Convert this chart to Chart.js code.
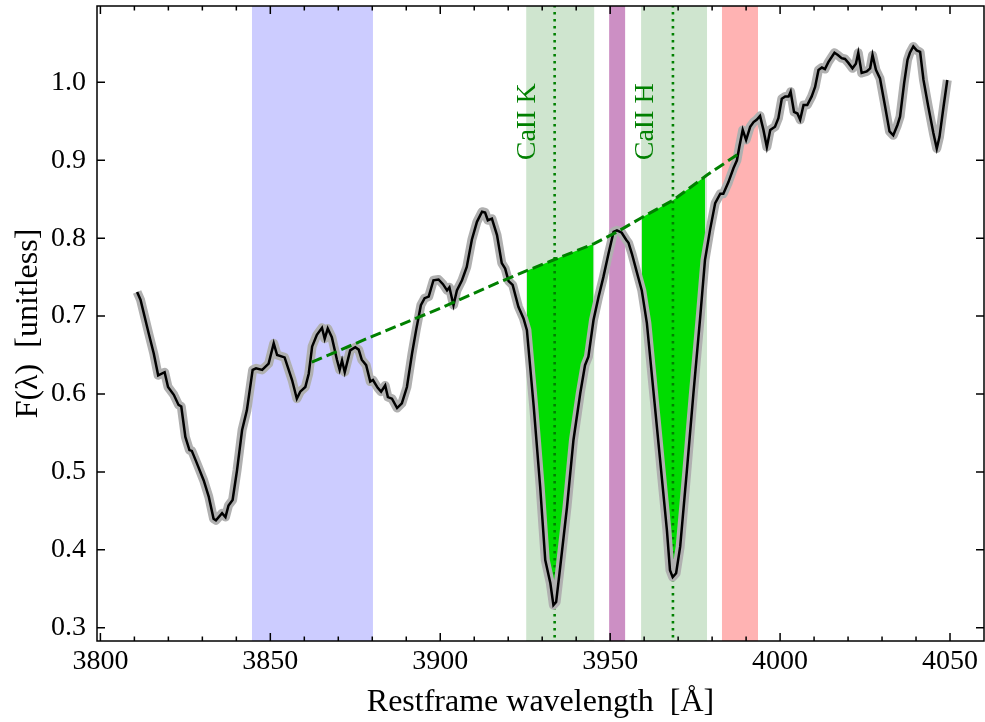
<!DOCTYPE html>
<html>
<head>
<meta charset="utf-8">
<script src="https://cdn.jsdelivr.net/npm/chart.js@4.4.0/dist/chart.umd.min.js"></script>
<style>
  html, body { margin: 0; padding: 0; background: #fff; }
</style>
</head>
<body>
<canvas id="spec" width="985" height="722"></canvas>
<script>
// restframe wavelength (Å) and normalised flux
const wave = [3810.8, 3811.8, 3814.2, 3815.7, 3817.0, 3818.9, 3819.9, 3821.6, 3823.0, 3823.8,
  3825.0, 3826.2, 3826.9, 3828.4, 3830.4, 3831.9, 3833.3, 3834.0, 3835.8, 3836.8,
  3837.7, 3838.9, 3840.2, 3841.7, 3843.1, 3844.8, 3845.8, 3847.6, 3849.5, 3851.0,
  3852.0, 3854.2, 3856.4, 3857.8, 3858.8, 3860.3, 3861.3, 3862.3, 3863.7, 3865.2,
  3866.0, 3866.9, 3868.1, 3869.6, 3870.4, 3871.1, 3871.9, 3873.5, 3875.0, 3876.0,
  3876.9, 3878.2, 3879.4, 3880.2, 3881.6, 3882.6, 3883.8, 3884.6, 3885.8, 3887.3,
  3888.7, 3890.2, 3891.7, 3892.9, 3894.3, 3895.4, 3896.6, 3898.0, 3899.5, 3900.8,
  3902.0, 3902.7, 3903.9, 3904.9, 3906.4, 3907.8, 3909.3, 3910.8, 3912.3, 3913.2,
  3914.0, 3915.2, 3916.7, 3918.1, 3919.1, 3920.1, 3921.3, 3923.0, 3924.5, 3925.5,
  3927.5, 3929.4, 3930.9, 3932.4, 3933.3, 3934.1, 3935.3, 3937.3, 3939.2, 3941.2,
  3942.6, 3943.6, 3945.1, 3946.6, 3948.0, 3949.5, 3951.0, 3952.0, 3953.4, 3954.7,
  3955.4, 3956.4, 3957.8, 3959.3, 3960.8, 3962.7, 3964.7, 3966.7, 3967.6, 3968.4,
  3969.4, 3970.6, 3972.5, 3974.5, 3976.5, 3977.9, 3979.4, 3980.9, 3982.4, 3983.3,
  3984.8, 3986.3, 3987.3, 3988.0, 3989.0, 3990.0, 3991.2, 3992.2, 3993.1, 3994.1,
  3995.1, 3996.1, 3997.1, 3998.5, 3999.5, 4000.5, 4001.5, 4002.5, 4003.1, 4004.1,
  4005.1, 4005.9, 4006.9, 4008.0, 4009.3, 4010.3, 4011.3, 4012.3, 4013.2, 4014.2,
  4016.0, 4017.0, 4018.1, 4019.1, 4020.1, 4021.3, 4022.3, 4023.0, 4024.0, 4025.5,
  4026.5, 4027.2, 4028.2, 4029.4, 4030.9, 4032.2, 4033.3, 4034.5, 4035.3, 4036.5,
  4037.5, 4038.2, 4039.2, 4040.2, 4041.2, 4042.2, 4043.6, 4045.1, 4046.1, 4046.9,
  4048.1, 4049.2];
const flux = [0.731, 0.721, 0.678, 0.652, 0.624, 0.628, 0.609, 0.599, 0.586, 0.584,
  0.545, 0.528, 0.527, 0.511, 0.489, 0.468, 0.440, 0.438, 0.447, 0.442,
  0.457, 0.464, 0.502, 0.554, 0.579, 0.631, 0.633, 0.631, 0.639, 0.665,
  0.650, 0.647, 0.618, 0.594, 0.603, 0.609, 0.626, 0.661, 0.676, 0.685,
  0.671, 0.684, 0.673, 0.644, 0.631, 0.643, 0.628, 0.656, 0.660, 0.657,
  0.644, 0.637, 0.616, 0.618, 0.608, 0.603, 0.611, 0.596, 0.594, 0.582,
  0.588, 0.609, 0.652, 0.682, 0.714, 0.723, 0.725, 0.746, 0.747, 0.741,
  0.733, 0.737, 0.714, 0.733, 0.746, 0.763, 0.798, 0.821, 0.834, 0.833,
  0.823, 0.825, 0.804, 0.768, 0.761, 0.745, 0.740, 0.712, 0.697, 0.682,
  0.584, 0.481, 0.387, 0.357, 0.329, 0.333, 0.378, 0.455, 0.541, 0.601,
  0.637, 0.648, 0.695, 0.725, 0.750, 0.780, 0.808, 0.810, 0.807, 0.798,
  0.794, 0.780, 0.757, 0.733, 0.691, 0.605, 0.515, 0.425, 0.374, 0.365,
  0.370, 0.404, 0.498, 0.601, 0.699, 0.772, 0.811, 0.845, 0.857, 0.857,
  0.872, 0.890, 0.900, 0.917, 0.939, 0.926, 0.943, 0.949, 0.952, 0.957,
  0.939, 0.917, 0.939, 0.943, 0.954, 0.979, 0.982, 0.982, 0.988, 0.962,
  0.960, 0.952, 0.971, 0.971, 0.982, 0.994, 1.016, 1.019, 1.017, 1.026,
  1.038, 1.035, 1.031, 1.030, 1.025, 1.018, 1.024, 1.038, 1.012, 1.014,
  1.018, 1.035, 1.016, 1.005, 0.969, 0.937, 0.932, 0.945, 0.956, 0.999,
  1.029, 1.038, 1.046, 1.041, 1.039, 1.003, 0.969, 0.935, 0.915, 0.930,
  0.969, 1.003];

// pseudo-continuum (dashed green)
const contWave = [3862.2, 3880.0, 3900.0, 3917.6, 3925.3, 3933.3, 3945.3, 3952.0, 3959.1, 3968.6, 3978.5, 3988.0];
const contFlux = [0.641, 0.674, 0.710, 0.744, 0.758, 0.772, 0.793, 0.808, 0.826, 0.849, 0.881, 0.909];

// Ca II lines
const lineWave = [3933.66, 3968.47];
const lineNames = ['CaII K', 'CaII H'];

// shaded windows: blue continuum, K band, Hε, H band, red continuum
const bandLo = [3844.6, 3925.3, 3949.7, 3959.1, 3982.9];
const bandHi = [3880.2, 3945.3, 3954.4, 3978.5, 3993.5];

const xTicks = [3800, 3850, 3900, 3950, 4000, 4050];
const yTicks = [0.3, 0.4, 0.5, 0.6, 0.7, 0.8, 0.9, 1.0];

const bandColors = ['#ccccff', '#cfe5cf', '#cc8fc4', '#cfe5cf', '#ffb3b3'];
const green = '#008000';
const lime = '#00dc00';

Chart.defaults.font.family = '"Liberation Serif", serif';
Chart.defaults.color = '#000';

const pts = (xs, ys) => xs.map((x, i) => ({ x: x, y: ys[i] }));
const spec = pts(wave, flux);
const cont = pts(contWave, contFlux);
const inBand = (arr, k) => arr.filter(p => p.x >= bandLo[k] && p.x <= bandHi[k]);

const decor = {
  id: 'decor',
  beforeDatasetsDraw(chart) {
    const { ctx, chartArea: a, scales: { x } } = chart;
    ctx.save();
    bandLo.forEach((lo, i) => {
      const x0 = x.getPixelForValue(lo);
      const x1 = x.getPixelForValue(bandHi[i]);
      ctx.fillStyle = bandColors[i];
      ctx.fillRect(x0, a.top, x1 - x0, a.bottom - a.top);
    });
    ctx.restore();
  },
  afterDatasetsDraw(chart) {
    const { ctx, chartArea: a, scales: { x, y } } = chart;
    ctx.save();
    // line labels
    ctx.fillStyle = green;
    ctx.font = '28px "Liberation Serif", serif';
    ctx.textAlign = 'left';
    ctx.textBaseline = 'middle';
    lineWave.forEach((w, i) => {
      ctx.save();
      ctx.translate(x.getPixelForValue(w - 8), y.getPixelForValue(0.9));
      ctx.rotate(-Math.PI / 2);
      ctx.fillText(lineNames[i], 0, 0);
      ctx.restore();
    });
    // frame
    ctx.strokeStyle = '#000';
    ctx.lineWidth = 1.5;
    ctx.strokeRect(a.left, a.top, a.right - a.left, a.bottom - a.top);
    // inward ticks
    ctx.beginPath();
    for (let v = xTicks[0]; v <= xTicks[xTicks.length - 1]; v += 10) {
      const px = x.getPixelForValue(v);
      const len = xTicks.includes(v) ? 8 : 4.5;
      ctx.moveTo(px, a.bottom); ctx.lineTo(px, a.bottom - len);
      ctx.moveTo(px, a.top); ctx.lineTo(px, a.top + len);
    }
    yTicks.forEach(v => {
      const py = y.getPixelForValue(v);
      ctx.moveTo(a.left, py); ctx.lineTo(a.left + 8, py);
      ctx.moveTo(a.right, py); ctx.lineTo(a.right - 8, py);
    });
    ctx.stroke();
    ctx.restore();
  }
};

new Chart(document.getElementById('spec'), {
  type: 'line',
  data: {
    datasets: [
      { data: cont, borderColor: green, borderWidth: 3, borderDash: [11, 5], order: 0 },
      { data: spec, borderColor: '#000', borderWidth: 2.5, order: 1 },
      { data: spec, borderColor: '#b0b0b0', borderWidth: 9, borderJoinStyle: 'round', order: 2 },
      { data: [{ x: lineWave[0], y: 0 }, { x: lineWave[0], y: 2 }], borderColor: green, borderWidth: 2.6, borderDash: [2.6, 4.4], order: 3 },
      { data: [{ x: lineWave[1], y: 0 }, { x: lineWave[1], y: 2 }], borderColor: green, borderWidth: 2.6, borderDash: [2.6, 4.4], order: 3 },
      { data: inBand(spec, 1), borderWidth: 0, backgroundColor: lime, fill: '+1', order: 4 },
      { data: inBand(cont, 1), borderWidth: 0, order: 5 },
      { data: inBand(spec, 3), borderWidth: 0, backgroundColor: lime, fill: '+1', order: 4 },
      { data: inBand(cont, 3), borderWidth: 0, order: 5 }
    ]
  },
  options: {
    responsive: false,
    animation: false,
    parsing: false,
    normalized: true,
    elements: { point: { radius: 0 }, line: { tension: 0, fill: false } },
    layout: { padding: { top: 6, right: 1, left: 0, bottom: 0 } },
    plugins: { legend: { display: false }, tooltip: { enabled: false } },
    scales: {
      x: {
        type: 'linear',
        min: 3799,
        max: 4060,
        grid: { display: false, drawTicks: false },
        border: { display: false },
        afterBuildTicks: s => { s.ticks = xTicks.map(v => ({ value: v })); },
        afterFit: s => { s.height = 81; s.paddingLeft = 0; s.paddingRight = 0; },
        ticks: { font: { size: 28 }, padding: 4, autoSkip: false, maxRotation: 0, callback: v => String(v) },
        title: { display: true, text: 'Restframe wavelength  [Å]', font: { size: 32 }, padding: { top: 0, bottom: 0 } }
      },
      y: {
        type: 'linear',
        min: 0.283,
        max: 1.098,
        grid: { display: false, drawTicks: false },
        border: { display: false },
        afterBuildTicks: s => { s.ticks = yTicks.map(v => ({ value: v })); },
        afterFit: s => { s.width = 97; s.paddingTop = 0; s.paddingBottom = 0; },
        ticks: { font: { size: 28 }, padding: 11, autoSkip: false, callback: v => v.toFixed(1) },
        title: { display: true, text: 'F(λ)  [unitless]', font: { size: 32 }, padding: { top: 9, bottom: 0 } }
      }
    }
  },
  plugins: [decor]
});
</script>
</body>
</html>
